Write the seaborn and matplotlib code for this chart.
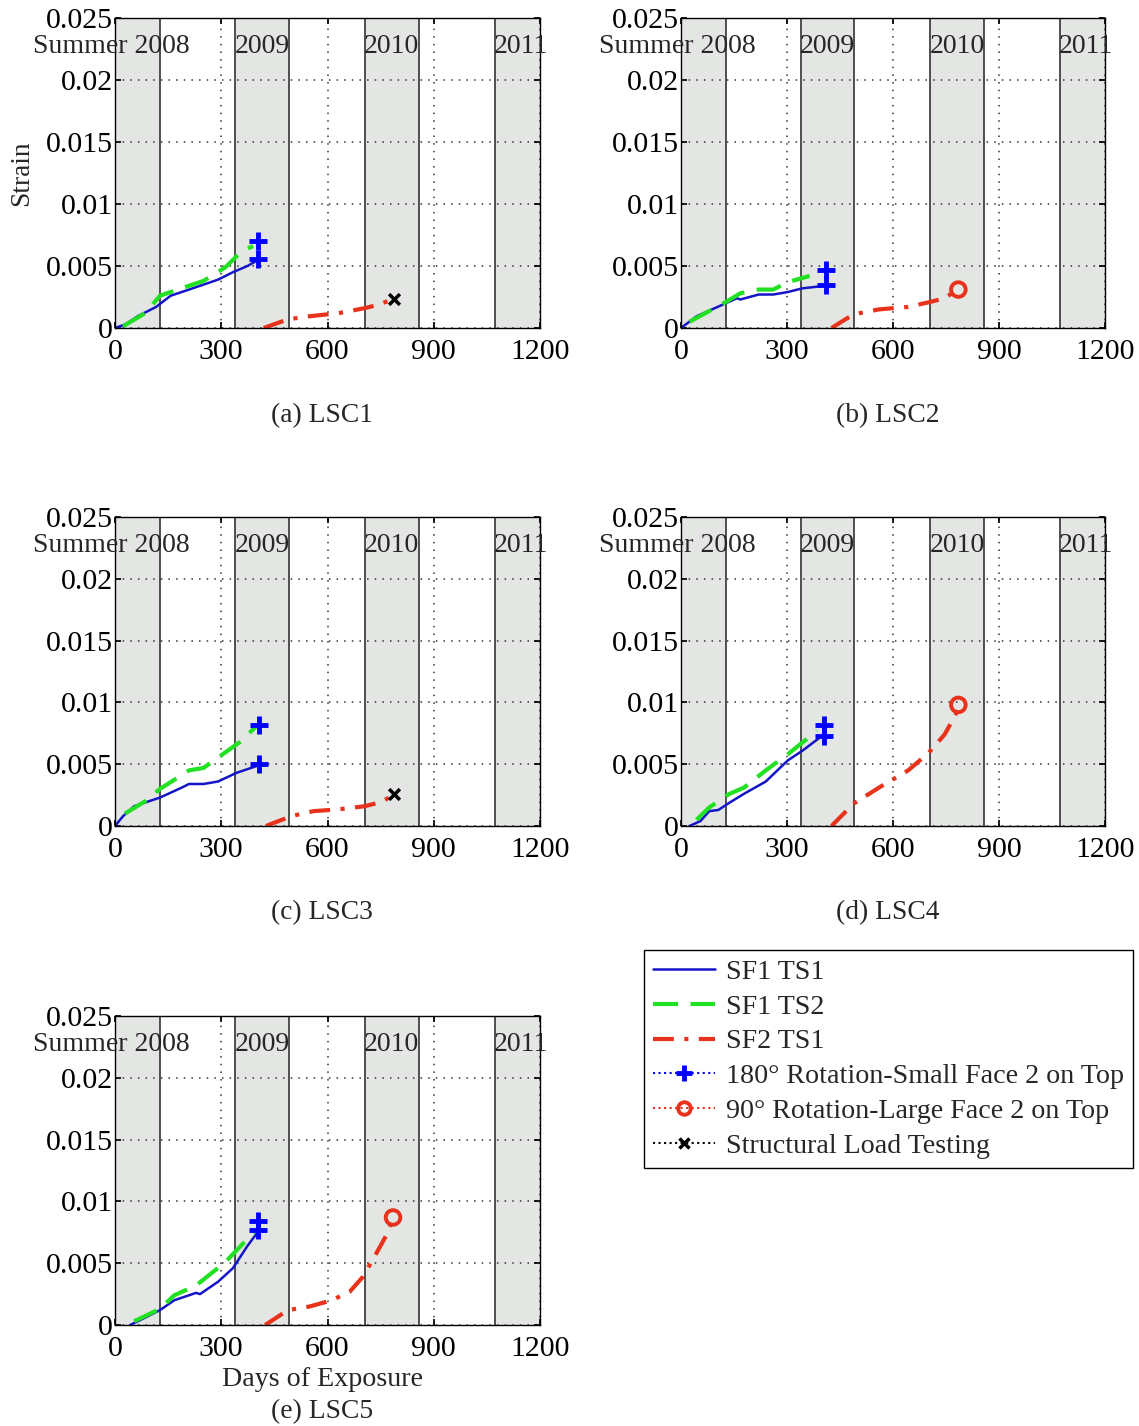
import numpy as np
import pandas as pd
import matplotlib
matplotlib.use("Agg")
import matplotlib.pyplot as plt
from matplotlib.lines import Line2D
import seaborn as sns

# ---------------- data ----------------
panel_captions = ["(a) LSC1", "(b) LSC2", "(c) LSC3", "(d) LSC4", "(e) LSC5"]

a_ts1_x = [0, 30, 64, 116, 157, 209, 250, 291, 333, 374, 405]
a_ts1_y = [0, 0.0003, 0.00095, 0.0017, 0.0026, 0.0031, 0.0035, 0.0039, 0.0045, 0.0050, 0.0055]
a_ts2_x = [23, 85, 127, 167, 250, 312, 358, 390]
a_ts2_y = [0.00014, 0.0012, 0.0026, 0.0030, 0.0038, 0.0049, 0.0062, 0.0066]
a_sf2_x = [420, 488, 550, 632, 705, 746, 782]
a_sf2_y = [0, 0.0007, 0.00095, 0.0012, 0.0016, 0.0019, 0.0023]
a_rot180_x = [405, 405]
a_rot180_y = [0.0056, 0.0070]
a_rot90_x, a_rot90_y = [], []
a_load_x, a_load_y = [787], [0.00235]

b_ts1_x = [0, 44, 127, 158, 168, 220, 261, 302, 344, 406]
b_ts1_y = [0, 0.00094, 0.0020, 0.0024, 0.0023, 0.0027, 0.0027, 0.0029, 0.0032, 0.0034]
b_ts2_x = [24, 127, 168, 220, 261, 302, 364]
b_ts2_y = [0.0005, 0.0021, 0.0028, 0.0031, 0.0031, 0.0037, 0.0042]
b_sf2_x = [426, 488, 560, 643, 705, 746, 777]
b_sf2_y = [0, 0.0011, 0.0015, 0.0017, 0.0021, 0.0024, 0.0030]
b_rot180_x = [409, 409]
b_rot180_y = [0.0035, 0.0047]
b_rot90_x, b_rot90_y = [785], [0.0031]
b_load_x, b_load_y = [], []

c_ts1_x = [0, 23, 54, 85, 127, 188, 209, 250, 291, 343, 405]
c_ts1_y = [0, 0.0008, 0.0016, 0.0019, 0.0023, 0.0031, 0.0034, 0.0034, 0.0036, 0.0043, 0.0049]
c_ts2_x = [28, 85, 127, 209, 250, 353, 400]
c_ts2_y = [0.0010, 0.0020, 0.0030, 0.0045, 0.0047, 0.0068, 0.0081]
c_sf2_x = [426, 498, 560, 632, 705, 746, 782]
c_sf2_y = [0, 0.0008, 0.0012, 0.00135, 0.0016, 0.0019, 0.0024]
c_rot180_x = [407, 407]
c_rot180_y = [0.0050, 0.0082]
c_rot90_x, c_rot90_y = [], []
c_load_x, c_load_y = [787], [0.0026]

d_ts1_x = [24, 55, 80, 106, 138, 178, 240, 302, 344, 395]
d_ts1_y = [0, 0.0004, 0.0012, 0.0013, 0.0019, 0.0026, 0.0036, 0.0053, 0.0061, 0.0072]
d_ts2_x = [44, 80, 137, 178, 240, 302, 385]
d_ts2_y = [0.0005, 0.0015, 0.0026, 0.0031, 0.0045, 0.0058, 0.0077]
d_sf2_x = [426, 488, 560, 643, 700, 746, 777, 785]
d_sf2_y = [0, 0.0018, 0.0031, 0.0045, 0.0059, 0.0074, 0.0090, 0.0098]
d_rot180_x = [406, 406]
d_rot180_y = [0.0073, 0.0082]
d_rot90_x, d_rot90_y = [785], [0.0098]
d_load_x, d_load_y = [], []

e_ts1_x = [43, 127, 167, 229, 240, 291, 333, 374, 400]
e_ts1_y = [0, 0.0012, 0.0020, 0.0026, 0.0025, 0.0035, 0.0046, 0.0064, 0.0074]
e_ts2_x = [54, 127, 167, 229, 312, 395]
e_ts2_y = [0.0003, 0.0013, 0.0024, 0.0032, 0.0051, 0.0076]
e_sf2_x = [424, 488, 550, 612, 663, 700, 736, 767, 782]
e_sf2_y = [0, 0.0012, 0.0015, 0.0020, 0.0027, 0.0039, 0.0057, 0.0073, 0.0084]
e_rot180_x = [405, 405]
e_rot180_y = [0.0077, 0.0084]
e_rot90_x, e_rot90_y = [785], [0.0087]
e_load_x, e_load_y = [], []

season_starts = [-200, 340, 706, 1072]
season_ends = [127, 491, 857, 1223]
season_labels = ["Summer 2008", "2009", "2010", "2011"]
season_label_x = [-10, 415, 781, 1146]

x_ticks = [0, 300, 600, 900, 1200]
y_ticks = [0, 0.005, 0.01, 0.015, 0.02, 0.025]
y_ticklabels = ["0", "0.005", "0.01", "0.015", "0.02", "0.025"]

legend_labels = ["SF1 TS1", "SF1 TS2", "SF2 TS1",
                 "180\u00b0 Rotation-Small Face 2 on Top",
                 "90\u00b0 Rotation-Large Face 2 on Top",
                 "Structural Load Testing"]

panels = [
    (a_ts1_x, a_ts1_y, a_ts2_x, a_ts2_y, a_sf2_x, a_sf2_y, a_rot180_x, a_rot180_y, a_rot90_x, a_rot90_y, a_load_x, a_load_y),
    (b_ts1_x, b_ts1_y, b_ts2_x, b_ts2_y, b_sf2_x, b_sf2_y, b_rot180_x, b_rot180_y, b_rot90_x, b_rot90_y, b_load_x, b_load_y),
    (c_ts1_x, c_ts1_y, c_ts2_x, c_ts2_y, c_sf2_x, c_sf2_y, c_rot180_x, c_rot180_y, c_rot90_x, c_rot90_y, c_load_x, c_load_y),
    (d_ts1_x, d_ts1_y, d_ts2_x, d_ts2_y, d_sf2_x, d_sf2_y, d_rot180_x, d_rot180_y, d_rot90_x, d_rot90_y, d_load_x, d_load_y),
    (e_ts1_x, e_ts1_y, e_ts2_x, e_ts2_y, e_sf2_x, e_sf2_y, e_rot180_x, e_rot180_y, e_rot90_x, e_rot90_y, e_load_x, e_load_y),
]

# ---------------- style ----------------
sns.set_theme(style="white")
plt.rcParams["font.family"] = ["Liberation Serif", "DejaVu Serif"]

BLUE = "#1414c8"
GREEN = "#22e022"
RED = "#e8321c"
BAND = "#e4e6e4"
TICK_FS = 21.5
SEASON_FS = 20
CAP_FS = 19.8
LEG_FS = 20.2

W, H = 1139, 1426
fig = plt.figure(figsize=(W / 100, H / 100), dpi=100)

# axes pixel boxes: left, top, right, bottom
boxes = [(115, 18, 540, 328), (681, 18, 1105, 328),
         (115, 517, 540, 826), (681, 517, 1105, 826),
         (115, 1016, 540, 1325)]
caption_pos = [(322, 416), (888, 416), (322, 913), (888, 913), (322, 1412)]

for i, (box, data) in enumerate(zip(boxes, panels)):
    l, t, r, b = box
    ax = fig.add_axes([l / W, 1 - b / H, (r - l) / W, (b - t) / H])
    (t1x, t1y, t2x, t2y, sx, sy, r180x, r180y, r90x, r90y, lx, ly) = data

    for s0, s1 in zip(season_starts, season_ends):
        ax.axvspan(s0, s1, color=BAND, zorder=0.3, lw=0)
        for edge in (s0, s1):
            if 0 < edge < 1200:
                ax.axvline(edge, color="#333333", lw=1.2, zorder=0.6)

    sns.lineplot(x=t1x, y=t1y, ax=ax, color=BLUE, lw=1.8, estimator=None,
                 sort=False, zorder=3)
    sns.lineplot(x=t2x, y=t2y, ax=ax, color=GREEN, lw=3.0, estimator=None,
                 sort=False, zorder=3).lines[-1].set_dashes([6, 3])
    sns.lineplot(x=sx, y=sy, ax=ax, color=RED, lw=3.0, estimator=None,
                 sort=False, zorder=3).lines[-1].set_dashes([5, 2.5, 1, 2.5])
    if r180x:
        sns.scatterplot(x=r180x, y=r180y, ax=ax, marker="+", s=170, color="#0000ff",
                        linewidth=3.5, zorder=4)
    if r90x:
        sns.scatterplot(x=r90x, y=r90y, ax=ax, marker="o", s=110, facecolor="none",
                        edgecolor=RED, linewidth=2.8, zorder=4)
    if lx:
        sns.scatterplot(x=lx, y=ly, ax=ax, marker="x", s=60, color="black",
                        linewidth=2.5, zorder=4)

    ax.set_xlim(0, 1200)
    ax.set_ylim(0, 0.025)
    ax.set_xticks(x_ticks)
    ax.set_xticklabels([str(v) for v in x_ticks])
    ax.set_yticks(y_ticks)
    ax.set_yticklabels(y_ticklabels)
    ax.tick_params(direction="in", labelsize=TICK_FS, length=4, top=True, right=True,
                   bottom=True, left=True, colors="black")
    ax.tick_params(axis="x", pad=8)
    ax.tick_params(axis="y", pad=1.5)
    ax.grid(True, linestyle=(0, (1, 4)), color="#333333", lw=1.1)
    ax.set_axisbelow("line")
    for sp in ax.spines.values():
        sp.set_color("black")
        sp.set_linewidth(1.0)
        sp.set_zorder(5)
    ax.set_xlabel("")
    ax.set_ylabel("")

    for lab, lxp in zip(season_labels, season_label_x):
        ax.text(lxp, 0.0227, lab, ha="center", va="center", fontsize=SEASON_FS,
                clip_on=False, zorder=6)

    cx, cy = caption_pos[i]
    fig.text(cx / W, 1 - cy / H, panel_captions[i], ha="center", va="center",
             fontsize=CAP_FS)

fig.text(22 / W, 1 - 173 / H, "Strain", rotation=90, ha="center", va="center",
         fontsize=CAP_FS)
fig.text(322 / W, 1 - 1380 / H, "Days of Exposure", ha="center", va="center",
         fontsize=CAP_FS + 0.4)

handles = [
    Line2D([], [], color=BLUE, lw=1.8, ls="-"),
    Line2D([], [], color=GREEN, lw=3.0, dashes=[6, 3]),
    Line2D([], [], color=RED, lw=3.0, dashes=[5, 2.5, 1, 2.5]),
    Line2D([], [], color="#0000ff", lw=1.5, ls=":", marker="+", ms=12, mew=3.5),
    Line2D([], [], color=RED, lw=1.5, ls=":", marker="o", ms=9, mew=2.8, mfc="none"),
    Line2D([], [], color="black", lw=1.5, ls=":", marker="x", ms=7, mew=2.5),
]
leg = fig.legend(handles, legend_labels, loc="upper left",
                 bbox_to_anchor=(644 / W, 1 - 950 / H), fontsize=LEG_FS,
                 frameon=True, fancybox=False, edgecolor="black", framealpha=1,
                 handlelength=2.2, handletextpad=0.42, borderpad=0.32,
                 labelspacing=0.33, borderaxespad=0)
leg.get_frame().set_linewidth(1.0)

fig.savefig("out.png", dpi=100)
